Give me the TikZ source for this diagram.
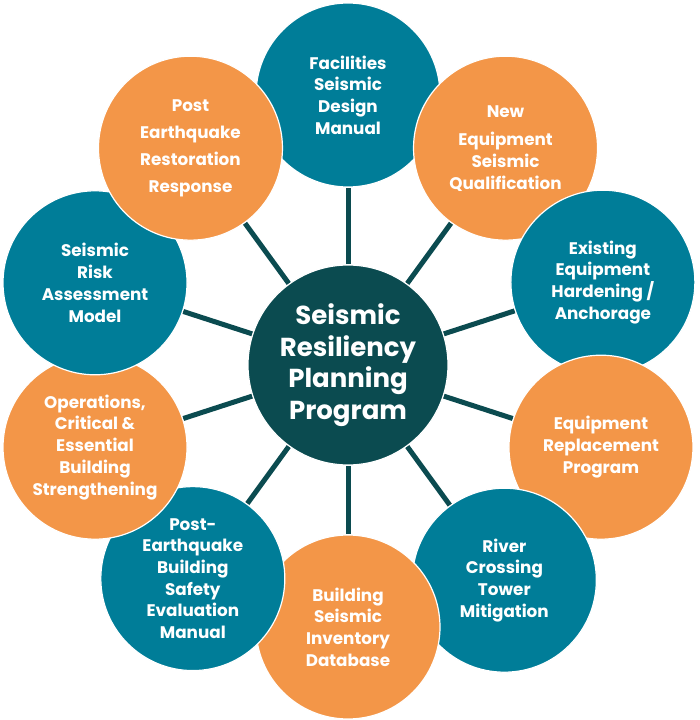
\documentclass[tikz,border=0pt]{standalone}
\usepackage{fontspec}
\setmainfont{Poppins}
\usetikzlibrary{backgrounds}
\definecolor{hubteal}{HTML}{0B4B50}
\definecolor{bubteal}{HTML}{007D98}
\definecolor{buborange}{HTML}{F39648}
\tikzstyle{bubble}=[circle, minimum size=184pt, inner sep=0pt, draw=white, line width=1.2pt, text=white, align=center, font=\fontsize{16.8}{21.7}\selectfont\bfseries]
\tikzstyle{hub}=[circle, minimum size=200pt, inner sep=0pt, draw=white, line width=1.2pt, fill=hubteal, text=white, align=center, font=\fontsize{26}{31.5}\selectfont\bfseries]
\tikzstyle{spoke}=[draw=hubteal, line width=5pt]

\begin{document}
\begin{tikzpicture}
	\useasboundingbox (-348pt,-355pt) rectangle (352pt,365pt);

	\node[hub] (srpp) at (0,0) {Seismic\\Resiliency\\Planning\\Program};

	% ring of programs, clockwise from the top
	\node[bubble, fill=bubteal] (design) at (90:270pt) {Facilities\\Seismic\\Design\\Manual};
	\node[bubble, fill=buborange] (qualif) at (54:268pt) {New\\[7pt]Equipment\\Seismic\\Qualification};
	\node[bubble, fill=bubteal] (harden) at (18:268pt) {Existing\\Equipment\\Hardening /\\Anchorage};
	\node[bubble, fill=buborange] (replace) at (-18:266pt) {Equipment\\Replacement\\Program};
	\node[bubble, fill=bubteal] (river) at (-54:266pt) {River\\Crossing\\Tower\\Mitigation};
	\node[bubble, fill=buborange] (inventory) at (-90:262pt) {Building\\Seismic\\Inventory\\Database};
	\node[bubble, fill=bubteal] (safety) at (-126:264pt) {Post-\\Earthquake\\Building\\Safety\\Evaluation\\Manual};
	\node[bubble, fill=buborange] (strength) at (-162:266pt) {Operations,\\Critical \&\\Essential\\Building\\Strengthening};
	\node[bubble, fill=bubteal] (risk) at (162:266pt) {Seismic\\Risk\\Assessment\\Model};
	\node[bubble, fill=buborange, font=\fontsize{16.8}{27}\selectfont\bfseries] (restore) at (126:268pt) {Post\\Earthquake\\Restoration\\Response};

	\begin{scope}[on background layer]
		\draw[spoke] (srpp) -- (design);
		\draw[spoke] (srpp) -- (qualif);
		\draw[spoke] (srpp) -- (harden);
		\draw[spoke] (srpp) -- (replace);
		\draw[spoke] (srpp) -- (river);
		\draw[spoke] (srpp) -- (inventory);
		\draw[spoke] (srpp) -- (safety);
		\draw[spoke] (srpp) -- (strength);
		\draw[spoke] (srpp) -- (risk);
		\draw[spoke] (srpp) -- (restore);
	\end{scope}
\end{tikzpicture}
\end{document}
